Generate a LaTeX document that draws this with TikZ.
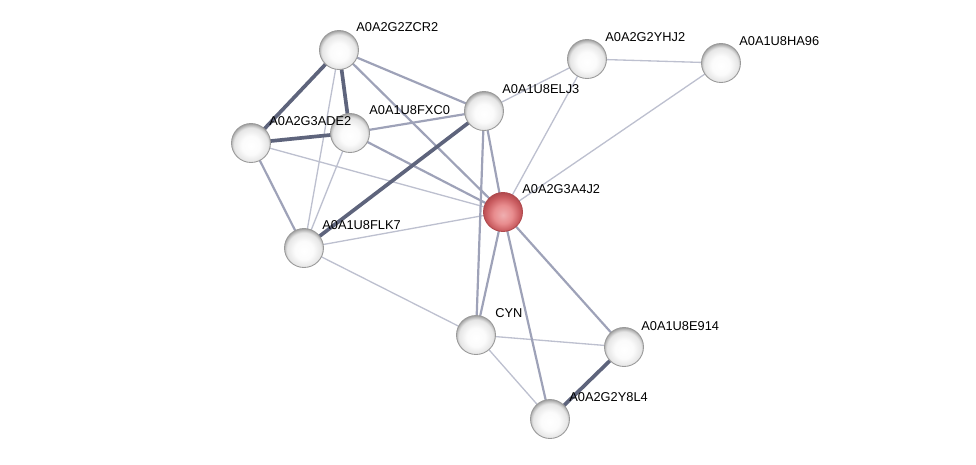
\documentclass[tikz,border=0pt]{standalone}
\usepackage{fontspec}
\setmainfont{Liberation Sans}
\usepackage{tikz}
\definecolor{edgethin}{HTML}{BDC0CF}
\definecolor{edgemid}{HTML}{9EA2B8}
\definecolor{edgethick}{HTML}{5E647C}
\definecolor{ballrim}{HTML}{9A9A9A}
\definecolor{redrim}{HTML}{B04A4E}
\definecolor{redbody}{HTML}{E88C8E}
\definecolor{redlow}{HTML}{C85A5E}
\pgfdeclareradialshading{greyball}{\pgfqpoint{0bp}{-4bp}}{%
  color(0bp)=(white); color(12bp)=(white!97!gray); color(22bp)=(white!80!gray);
  color(27bp)=(gray!75); color(50bp)=(gray!75)}
\pgfdeclareradialshading{redglobe}{\pgfqpoint{0bp}{-4bp}}{%
  color(0bp)=(redbody!70!white); color(12bp)=(redbody); color(22bp)=(redlow);
  color(27bp)=(redrim); color(50bp)=(redrim)}
\tikzset{
  thinedge/.style={draw=edgethin, line width=0.75pt},
  midedge/.style={draw=edgemid, line width=1.25pt},
  thickedge/.style={draw=edgethick, line width=2.1pt},
  ball/.style={circle, minimum size=0.78cm, inner sep=0pt, shading=greyball, draw=ballrim, line width=0.5pt},
  redball/.style={ball, shading=redglobe, draw=redrim},
  lbl/.style={anchor=west, inner sep=0pt, font=\fontsize{7.3}{8}\selectfont}
}

\begin{document}
\begin{tikzpicture}[x=0.02cm, y=-0.02cm]
  \useasboundingbox (0,0) rectangle (976,464);

  \coordinate (ZCR2) at (339,50);
  \coordinate (ADE2) at (251,143);
  \coordinate (FXC0) at (350,133);
  \coordinate (ELJ3) at (484,111);
  \coordinate (YHJ2) at (587,59);
  \coordinate (HA96) at (721,63);
  \coordinate (A4J2) at (503,212);
  \coordinate (FLK7) at (304,248);
  \coordinate (CYN) at (476,335);
  \coordinate (E914) at (624,347);
  \coordinate (Y8L4) at (550,419);

  % edges
  \draw[thinedge] (ZCR2) -- (FLK7);
  \draw[thinedge] (FXC0) -- (FLK7);
  \draw[thinedge] (YHJ2) -- (HA96);
  \draw[thinedge] (HA96) -- (A4J2);
  \draw[thinedge] (FLK7) -- (CYN);
  \draw[thinedge] (CYN) -- (E914);
  \draw[thinedge] (CYN) -- (Y8L4);
  \draw[thinedge] (ELJ3) -- (YHJ2);
  \draw[thinedge] (YHJ2) -- (A4J2);
  \draw[thinedge] (ADE2) -- (A4J2);
  \draw[thinedge] (FLK7) -- (A4J2);
  \draw[midedge] (ZCR2) -- (ELJ3);
  \draw[midedge] (ZCR2) -- (A4J2);
  \draw[midedge] (ADE2) -- (FLK7);
  \draw[midedge] (FXC0) -- (ELJ3);
  \draw[midedge] (FXC0) -- (A4J2);
  \draw[midedge] (ELJ3) -- (A4J2);
  \draw[midedge] (ELJ3) -- (CYN);
  \draw[midedge] (A4J2) -- (CYN);
  \draw[midedge] (A4J2) -- (E914);
  \draw[midedge] (A4J2) -- (Y8L4);
  \draw[thickedge] (ZCR2) -- (ADE2);
  \draw[thickedge] (ZCR2) -- (FXC0);
  \draw[thickedge] (ADE2) -- (FXC0);
  \draw[thickedge] (ELJ3) -- (FLK7);
  \draw[thickedge] (E914) -- (Y8L4);

  % proteins
  \node[ball] (nZCR2) at (ZCR2) {};
  \node[ball] (nADE2) at (ADE2) {};
  \node[ball] (nFXC0) at (FXC0) {};
  \node[ball] (nELJ3) at (ELJ3) {};
  \node[ball] (nYHJ2) at (YHJ2) {};
  \node[ball] (nHA96) at (HA96) {};
  \node[redball] (nA4J2) at (A4J2) {};
  \node[ball] (nFLK7) at (FLK7) {};
  \node[ball] (nCYN) at (CYN) {};
  \node[ball] (nE914) at (E914) {};
  \node[ball] (nY8L4) at (Y8L4) {};

  \node[lbl] (tZCR2) at ([shift={(17,-23)}]ZCR2) {A0A2G2ZCR2};
  \node[lbl] (tADE2) at ([shift={(18,-22)}]ADE2) {A0A2G3ADE2};
  \node[lbl] (tFXC0) at ([shift={(19,-23)}]FXC0) {A0A1U8FXC0};
  \node[lbl] (tELJ3) at ([shift={(18,-22)}]ELJ3) {A0A1U8ELJ3};
  \node[lbl] (tYHJ2) at ([shift={(18,-22)}]YHJ2) {A0A2G2YHJ2};
  \node[lbl] (tHA96) at ([shift={(18,-22)}]HA96) {A0A1U8HA96};
  \node[lbl] (tA4J2) at ([shift={(19,-23)}]A4J2) {A0A2G3A4J2};
  \node[lbl] (tFLK7) at ([shift={(18,-23)}]FLK7) {A0A1U8FLK7};
  \node[lbl] (tCYN) at ([shift={(19,-22)}]CYN) {CYN};
  \node[lbl] (tE914) at ([shift={(17,-21)}]E914) {A0A1U8E914};
  \node[lbl] (tY8L4) at ([shift={(19,-22)}]Y8L4) {A0A2G2Y8L4};
\end{tikzpicture}
\end{document}
